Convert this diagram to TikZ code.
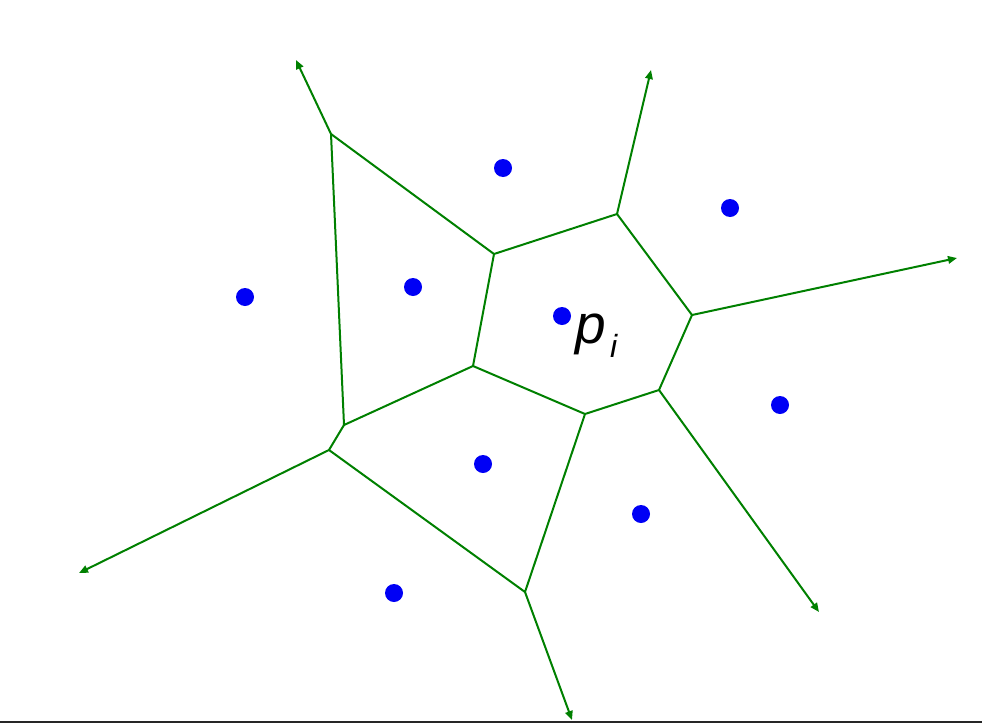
\documentclass[tikz,border=0pt]{standalone}
\usepackage{fontspec}
\setmainfont{Liberation Sans}
\usetikzlibrary{arrows.meta}
\definecolor{vgreen}{RGB}{0,128,0}
\definecolor{vblue}{RGB}{0,0,245}
\tikzset{
  edge/.style={draw=vgreen, line width=2pt},
  ray/.style={draw=vgreen, line width=2pt, -{Triangle[length=9pt,width=7.5pt]}},
  site/.style={circle, fill=vblue, inner sep=0pt, minimum size=18pt},
}
\begin{document}
\begin{tikzpicture}[x=1pt,y=-1pt]
\useasboundingbox (0,0) rectangle (982,723);
% vertices
\coordinate (A) at (331,134);
\coordinate (B) at (494,254);
\coordinate (C) at (617,214);
\coordinate (D) at (692,315);
\coordinate (E) at (659,390);
\coordinate (F) at (585,414);
\coordinate (G) at (473,366);
\coordinate (H) at (344,425);
\coordinate (I) at (329,450);
\coordinate (J) at (525,592);
% ray ends
\coordinate (rA) at (296,60);
\coordinate (rC) at (651,70);
\coordinate (rD) at (957,258);
\coordinate (rE) at (819,612);
\coordinate (rJ) at (572,720);
\coordinate (rI) at (79,573);
% edges
\draw[edge] (A) -- (B) -- (C) -- (D) -- (E) -- (F) -- (G) -- (B);
\draw[edge] (G) -- (H) -- (A);
\draw[edge] (H) -- (I) -- (J) -- (F);
% rays
\draw[ray] (A) -- (rA);
\draw[ray] (C) -- (rC);
\draw[ray] (D) -- (rD);
\draw[ray] (E) -- (rE);
\draw[ray] (J) -- (rJ);
\draw[ray] (I) -- (rI);
% sites
\node[site] (s1) at (503,168) {};
\node[site] (s2) at (730,208) {};
\node[site] (s3) at (245,297) {};
\node[site] (s4) at (413,287) {};
\node[site] (s5) at (562,316) {};
\node[site] (s6) at (780,405) {};
\node[site] (s7) at (483,464) {};
\node[site] (s8) at (641,514) {};
\node[site] (s9) at (394,593) {};
% label
\node[anchor=base west, inner sep=0pt, font=\fontsize{55}{55}\selectfont\itshape] (lp) at (575,343) {p};
\node[anchor=base west, inner sep=0pt, font=\fontsize{32}{32}\selectfont\itshape] (li) at (610,357) {i};
% bottom rule
\draw[line width=1.5pt, black!85] (0,722) -- (982,722);
\end{tikzpicture}
\end{document}
